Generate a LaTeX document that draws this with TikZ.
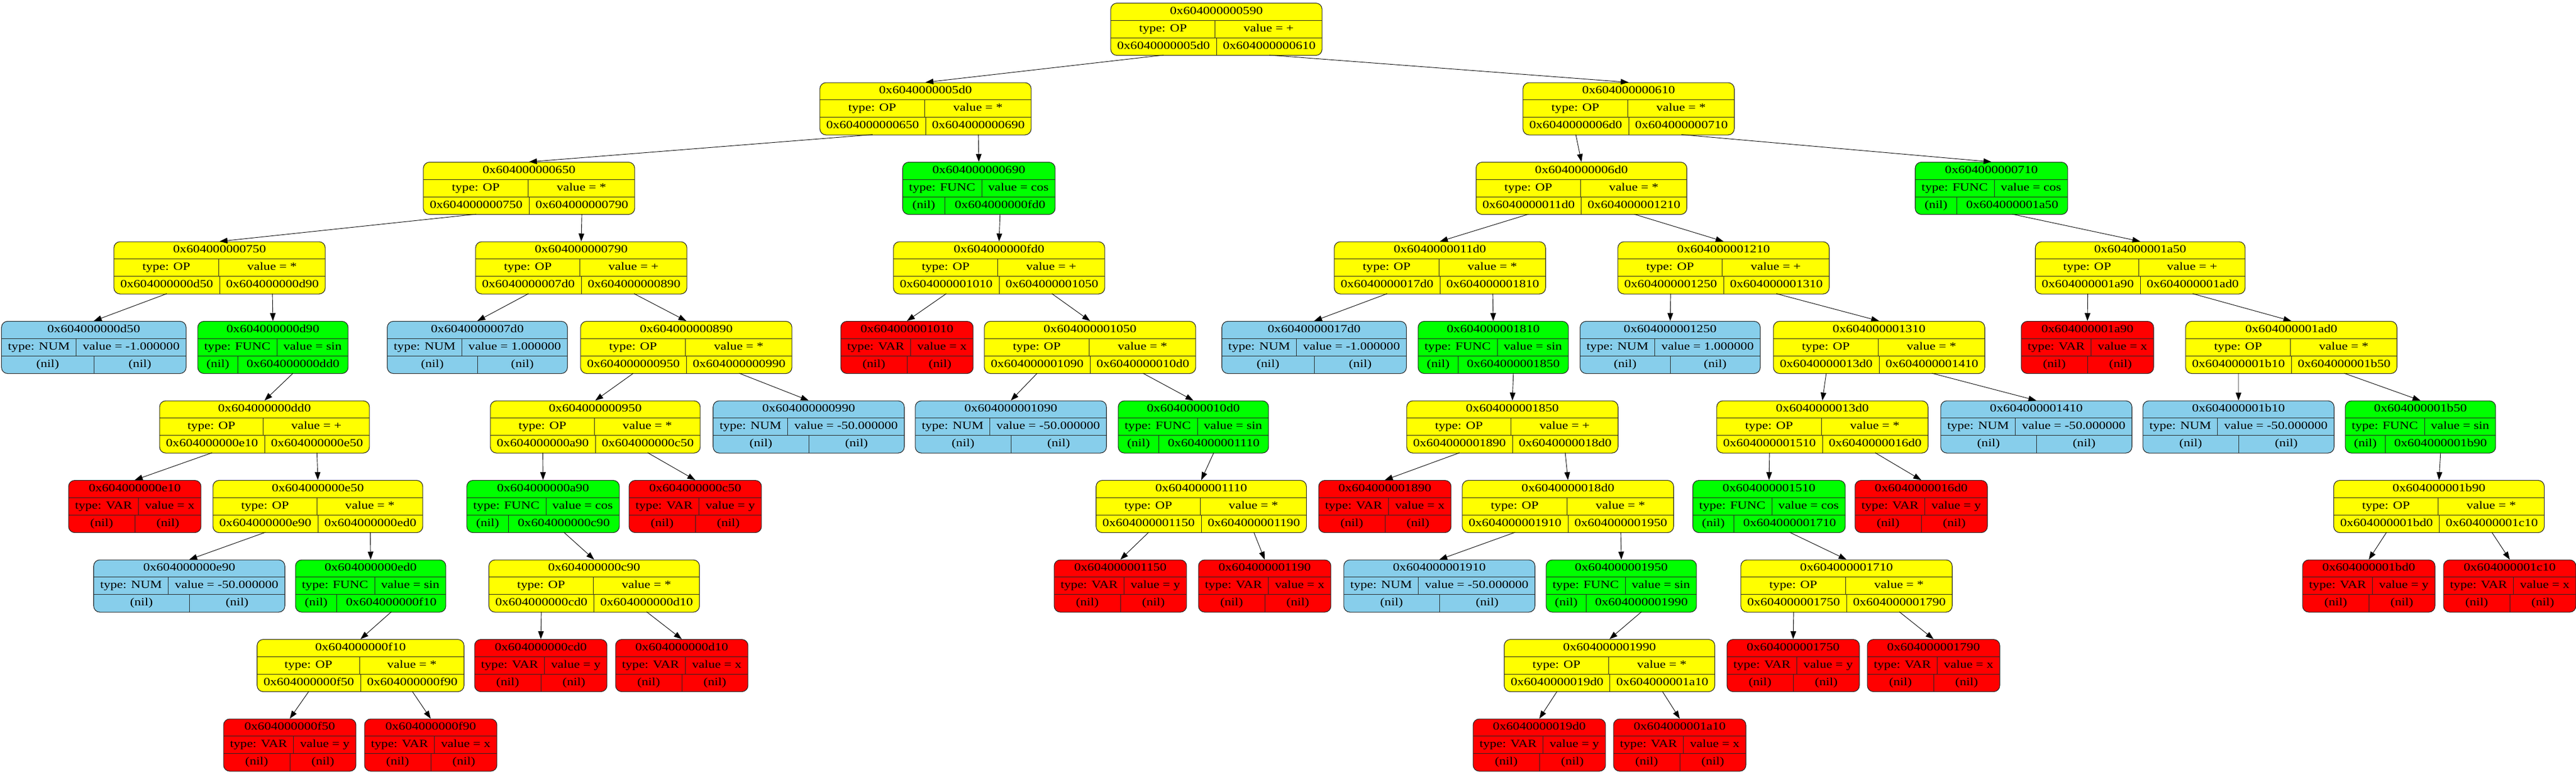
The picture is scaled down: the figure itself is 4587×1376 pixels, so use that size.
\documentclass[tikz,border=0pt]{standalone}
\usepackage{fontspec}
\setmainfont{Liberation Serif}[FakeStretch=1.21]
\usetikzlibrary{arrows.meta}

\definecolor{jaune}{HTML}{FFFF00}
\definecolor{vert}{HTML}{00FF00}
\definecolor{rouge}{HTML}{FF0000}
\definecolor{ciel}{HTML}{87CEEB}

\newcommand{\police}{\fontsize{19.5pt}{23pt}\selectfont}
\newdimen\marge
\marge=11.5pt
\newdimen\tmpl

\tikzset{
  boite/.style={draw=black!85, line width=1.1pt, rounded corners=11pt, inner sep=0pt, minimum height=93pt, anchor=north},
  trait/.style={draw=black!85, line width=1pt},
  texte/.style={inner sep=0pt, text height=13.5pt, text depth=4.5pt},
  fleche/.style={-{Triangle[length=14pt,width=10pt]}, line width=0.9pt},
}

% largeur d'un champ
\makeatletter
\newcommand{\larg}[2]{\setbox0=\hbox{\fontrec #2}\tmpl=\wd0 \advance\tmpl by 2\marge
  \edef#1{\strip@pt\tmpl}}
\makeatother

% enregistrement : nom, x, rang, couleur, adresse, type, valeur, gauche, droite
\newcommand{\rec}[9]{%
  \larg\lA{#6}\larg\lB{#7}\larg\lC{#8}\larg\lD{#9}\larg\lE{#5}%
  \pgfmathsetmacro\lW{max(\lE,\lA+\lB,\lC+\lD)}%
  \pgfmathsetmacro\sA{\lA+(\lW-\lA-\lB)/2}%
  \pgfmathsetmacro\sC{\lC+(\lW-\lC-\lD)/2}%
  \pgfmathsetmacro\xg{#2-\lW/2}%
  \pgfmathsetmacro\yh{-5-141.5*#3}%
  \node[boite, fill=#4, minimum width=\lW pt] (#1) at (#2,\yh) {};
  \draw[trait] (\xg,\yh-31) -- ++(\lW,0) (\xg,\yh-62) -- ++(\lW,0)
    (\xg+\sA,\yh-31) -- ++(0,-31) (\xg+\sC,\yh-62) -- ++(0,-31);
  \node[texte] at (#2,\yh-15.5) {#5};
  \node[texte] at (\xg+\sA/2,\yh-46.5) {#6};
  \node[texte] at ({\xg+(\lW+\sA)/2},\yh-46.5) {#7};
  \node[texte] at (\xg+\sC/2,\yh-77.5) {#8};
  \node[texte] at ({\xg+(\lW+\sC)/2},\yh-77.5) {#9};
  \coordinate (#1-g) at (\xg+\sC/2,\yh-93);
  \coordinate (#1-d) at ({\xg+(\lW+\sC)/2},\yh-93);
}

\begin{document}
\police\expandafter\let\expandafter\fontrec\the\font
\begin{tikzpicture}[x=1pt, y=1pt, font=\police]

\useasboundingbox (0,0) rectangle (4587,-1376);

% rang 0
\rec{n590}{2166}{0}{jaune}{0x604000000590}{type: OP}{value = +}{0x6040000005d0}{0x604000000610}

% rang 1
\rec{n5d0}{1648}{1}{jaune}{0x6040000005d0}{type: OP}{value = *}{0x604000000650}{0x604000000690}
\rec{n610}{2900}{1}{jaune}{0x604000000610}{type: OP}{value = *}{0x6040000006d0}{0x604000000710}

% rang 2
\rec{n650}{942}{2}{jaune}{0x604000000650}{type: OP}{value = *}{0x604000000750}{0x604000000790}
\rec{n690}{1743}{2}{vert}{0x604000000690}{type: FUNC}{value = cos}{(nil)}{0x604000000fd0}
\rec{n6d0}{2816}{2}{jaune}{0x6040000006d0}{type: OP}{value = *}{0x6040000011d0}{0x604000001210}
\rec{n710}{3546}{2}{vert}{0x604000000710}{type: FUNC}{value = cos}{(nil)}{0x604000001a50}

% rang 3
\rec{n750}{391}{3}{jaune}{0x604000000750}{type: OP}{value = *}{0x604000000d50}{0x604000000d90}
\rec{n790}{1035}{3}{jaune}{0x604000000790}{type: OP}{value = +}{0x6040000007d0}{0x604000000890}
\rec{nfd0}{1779}{3}{jaune}{0x604000000fd0}{type: OP}{value = +}{0x604000001010}{0x604000001050}
\rec{n11d0}{2564}{3}{jaune}{0x6040000011d0}{type: OP}{value = *}{0x6040000017d0}{0x604000001810}
\rec{n1210}{3069}{3}{jaune}{0x604000001210}{type: OP}{value = +}{0x604000001250}{0x604000001310}
\rec{n1a50}{3811}{3}{jaune}{0x604000001a50}{type: OP}{value = +}{0x604000001a90}{0x604000001ad0}

% rang 4
\rec{nd50}{167}{4}{ciel}{0x604000000d50}{type: NUM}{value = -1.000000}{(nil)}{(nil)}
\rec{nd90}{486}{4}{vert}{0x604000000d90}{type: FUNC}{value = sin}{(nil)}{0x604000000dd0}
\rec{n7d0}{850}{4}{ciel}{0x6040000007d0}{type: NUM}{value = 1.000000}{(nil)}{(nil)}
\rec{n890}{1222}{4}{jaune}{0x604000000890}{type: OP}{value = *}{0x604000000950}{0x604000000990}
\rec{n1010}{1615}{4}{rouge}{0x604000001010}{type: VAR}{value = x}{(nil)}{(nil)}
\rec{n1050}{1941}{4}{jaune}{0x604000001050}{type: OP}{value = *}{0x604000001090}{0x6040000010d0}
\rec{n17d0}{2340}{4}{ciel}{0x6040000017d0}{type: NUM}{value = -1.000000}{(nil)}{(nil)}
\rec{n1810}{2659}{4}{vert}{0x604000001810}{type: FUNC}{value = sin}{(nil)}{0x604000001850}
\rec{n1250}{2974}{4}{ciel}{0x604000001250}{type: NUM}{value = 1.000000}{(nil)}{(nil)}
\rec{n1310}{3346}{4}{jaune}{0x604000001310}{type: OP}{value = *}{0x6040000013d0}{0x604000001410}
\rec{n1a90}{3717}{4}{rouge}{0x604000001a90}{type: VAR}{value = x}{(nil)}{(nil)}
\rec{n1ad0}{4080}{4}{jaune}{0x604000001ad0}{type: OP}{value = *}{0x604000001b10}{0x604000001b50}

% rang 5
\rec{ndd0}{471}{5}{jaune}{0x604000000dd0}{type: OP}{value = +}{0x604000000e10}{0x604000000e50}
\rec{n950}{1060}{5}{jaune}{0x604000000950}{type: OP}{value = *}{0x604000000a90}{0x604000000c50}
\rec{n990}{1440}{5}{ciel}{0x604000000990}{type: NUM}{value = -50.000000}{(nil)}{(nil)}
\rec{n1090}{1800}{5}{ciel}{0x604000001090}{type: NUM}{value = -50.000000}{(nil)}{(nil)}
\rec{n10d0}{2125}{5}{vert}{0x6040000010d0}{type: FUNC}{value = sin}{(nil)}{0x604000001110}
\rec{n1850}{2693}{5}{jaune}{0x604000001850}{type: OP}{value = +}{0x604000001890}{0x6040000018d0}
\rec{n13d0}{3245}{5}{jaune}{0x6040000013d0}{type: OP}{value = *}{0x604000001510}{0x6040000016d0}
\rec{n1410}{3626}{5}{ciel}{0x604000001410}{type: NUM}{value = -50.000000}{(nil)}{(nil)}
\rec{n1b10}{3986}{5}{ciel}{0x604000001b10}{type: NUM}{value = -50.000000}{(nil)}{(nil)}
\rec{n1b50}{4310}{5}{vert}{0x604000001b50}{type: FUNC}{value = sin}{(nil)}{0x604000001b90}

% rang 6
\rec{ne10}{240}{6}{rouge}{0x604000000e10}{type: VAR}{value = x}{(nil)}{(nil)}
\rec{ne50}{566}{6}{jaune}{0x604000000e50}{type: OP}{value = *}{0x604000000e90}{0x604000000ed0}
\rec{na90}{967}{6}{vert}{0x604000000a90}{type: FUNC}{value = cos}{(nil)}{0x604000000c90}
\rec{nc50}{1238}{6}{rouge}{0x604000000c50}{type: VAR}{value = y}{(nil)}{(nil)}
\rec{n1110}{2139}{6}{jaune}{0x604000001110}{type: OP}{value = *}{0x604000001150}{0x604000001190}
\rec{n1890}{2466}{6}{rouge}{0x604000001890}{type: VAR}{value = x}{(nil)}{(nil)}
\rec{n18d0}{2792}{6}{jaune}{0x6040000018d0}{type: OP}{value = *}{0x604000001910}{0x604000001950}
\rec{n1510}{3150}{6}{vert}{0x604000001510}{type: FUNC}{value = cos}{(nil)}{0x604000001710}
\rec{n16d0}{3421}{6}{rouge}{0x6040000016d0}{type: VAR}{value = y}{(nil)}{(nil)}
\rec{n1b90}{4343}{6}{jaune}{0x604000001b90}{type: OP}{value = *}{0x604000001bd0}{0x604000001c10}

% rang 7
\rec{ne90}{337}{7}{ciel}{0x604000000e90}{type: NUM}{value = -50.000000}{(nil)}{(nil)}
\rec{ned0}{660}{7}{vert}{0x604000000ed0}{type: FUNC}{value = sin}{(nil)}{0x604000000f10}
\rec{nc90}{1058}{7}{jaune}{0x604000000c90}{type: OP}{value = *}{0x604000000cd0}{0x604000000d10}
\rec{n1150}{1995}{7}{rouge}{0x604000001150}{type: VAR}{value = y}{(nil)}{(nil)}
\rec{n1190}{2252}{7}{rouge}{0x604000001190}{type: VAR}{value = x}{(nil)}{(nil)}
\rec{n1910}{2563}{7}{ciel}{0x604000001910}{type: NUM}{value = -50.000000}{(nil)}{(nil)}
\rec{n1950}{2887}{7}{vert}{0x604000001950}{type: FUNC}{value = sin}{(nil)}{0x604000001990}
\rec{n1710}{3288}{7}{jaune}{0x604000001710}{type: OP}{value = *}{0x604000001750}{0x604000001790}
\rec{n1bd0}{4218}{7}{rouge}{0x604000001bd0}{type: VAR}{value = y}{(nil)}{(nil)}
\rec{n1c10}{4469}{7}{rouge}{0x604000001c10}{type: VAR}{value = x}{(nil)}{(nil)}

% rang 8
\rec{nf10}{642}{8}{jaune}{0x604000000f10}{type: OP}{value = *}{0x604000000f50}{0x604000000f90}
\rec{ncd0}{963}{8}{rouge}{0x604000000cd0}{type: VAR}{value = y}{(nil)}{(nil)}
\rec{nd10}{1214}{8}{rouge}{0x604000000d10}{type: VAR}{value = x}{(nil)}{(nil)}
\rec{n1990}{2866}{8}{jaune}{0x604000001990}{type: OP}{value = *}{0x6040000019d0}{0x604000001a10}
\rec{n1750}{3193}{8}{rouge}{0x604000001750}{type: VAR}{value = y}{(nil)}{(nil)}
\rec{n1790}{3443}{8}{rouge}{0x604000001790}{type: VAR}{value = x}{(nil)}{(nil)}

% rang 9
\rec{nf50}{516}{9}{rouge}{0x604000000f50}{type: VAR}{value = y}{(nil)}{(nil)}
\rec{nf90}{767}{9}{rouge}{0x604000000f90}{type: VAR}{value = x}{(nil)}{(nil)}
\rec{n19d0}{2741}{9}{rouge}{0x6040000019d0}{type: VAR}{value = y}{(nil)}{(nil)}
\rec{n1a10}{2991}{9}{rouge}{0x604000001a10}{type: VAR}{value = x}{(nil)}{(nil)}

% aretes
\draw[fleche] (n590-g) -- (n5d0.north);
\draw[fleche] (n590-d) -- (n610.north);
\draw[fleche] (n5d0-g) -- (n650.north);
\draw[fleche] (n5d0-d) -- (n690.north);
\draw[fleche] (n610-g) -- (n6d0.north);
\draw[fleche] (n610-d) -- (n710.north);
\draw[fleche] (n650-g) -- (n750.north);
\draw[fleche] (n650-d) -- (n790.north);
\draw[fleche] (n690-d) -- (nfd0.north);
\draw[fleche] (n6d0-g) -- (n11d0.north);
\draw[fleche] (n6d0-d) -- (n1210.north);
\draw[fleche] (n710-d) -- (n1a50.north);
\draw[fleche] (n750-g) -- (nd50.north);
\draw[fleche] (n750-d) -- (nd90.north);
\draw[fleche] (n790-g) -- (n7d0.north);
\draw[fleche] (n790-d) -- (n890.north);
\draw[fleche] (nfd0-g) -- (n1010.north);
\draw[fleche] (nfd0-d) -- (n1050.north);
\draw[fleche] (n11d0-g) -- (n17d0.north);
\draw[fleche] (n11d0-d) -- (n1810.north);
\draw[fleche] (n1210-g) -- (n1250.north);
\draw[fleche] (n1210-d) -- (n1310.north);
\draw[fleche] (n1a50-g) -- (n1a90.north);
\draw[fleche] (n1a50-d) -- (n1ad0.north);
\draw[fleche] (nd90-d) -- (ndd0.north);
\draw[fleche] (n890-g) -- (n950.north);
\draw[fleche] (n890-d) -- (n990.north);
\draw[fleche] (n1050-g) -- (n1090.north);
\draw[fleche] (n1050-d) -- (n10d0.north);
\draw[fleche] (n1810-d) -- (n1850.north);
\draw[fleche] (n1310-g) -- (n13d0.north);
\draw[fleche] (n1310-d) -- (n1410.north);
\draw[fleche] (n1ad0-g) -- (n1b10.north);
\draw[fleche] (n1ad0-d) -- (n1b50.north);
\draw[fleche] (ndd0-g) -- (ne10.north);
\draw[fleche] (ndd0-d) -- (ne50.north);
\draw[fleche] (n950-g) -- (na90.north);
\draw[fleche] (n950-d) -- (nc50.north);
\draw[fleche] (n10d0-d) -- (n1110.north);
\draw[fleche] (n1850-g) -- (n1890.north);
\draw[fleche] (n1850-d) -- (n18d0.north);
\draw[fleche] (n13d0-g) -- (n1510.north);
\draw[fleche] (n13d0-d) -- (n16d0.north);
\draw[fleche] (n1b50-d) -- (n1b90.north);
\draw[fleche] (ne50-g) -- (ne90.north);
\draw[fleche] (ne50-d) -- (ned0.north);
\draw[fleche] (na90-d) -- (nc90.north);
\draw[fleche] (n1110-g) -- (n1150.north);
\draw[fleche] (n1110-d) -- (n1190.north);
\draw[fleche] (n18d0-g) -- (n1910.north);
\draw[fleche] (n18d0-d) -- (n1950.north);
\draw[fleche] (n1510-d) -- (n1710.north);
\draw[fleche] (n1b90-g) -- (n1bd0.north);
\draw[fleche] (n1b90-d) -- (n1c10.north);
\draw[fleche] (ned0-d) -- (nf10.north);
\draw[fleche] (nc90-g) -- (ncd0.north);
\draw[fleche] (nc90-d) -- (nd10.north);
\draw[fleche] (n1950-d) -- (n1990.north);
\draw[fleche] (n1710-g) -- (n1750.north);
\draw[fleche] (n1710-d) -- (n1790.north);
\draw[fleche] (nf10-g) -- (nf50.north);
\draw[fleche] (nf10-d) -- (nf90.north);
\draw[fleche] (n1990-g) -- (n19d0.north);
\draw[fleche] (n1990-d) -- (n1a10.north);

\end{tikzpicture}
\end{document}
